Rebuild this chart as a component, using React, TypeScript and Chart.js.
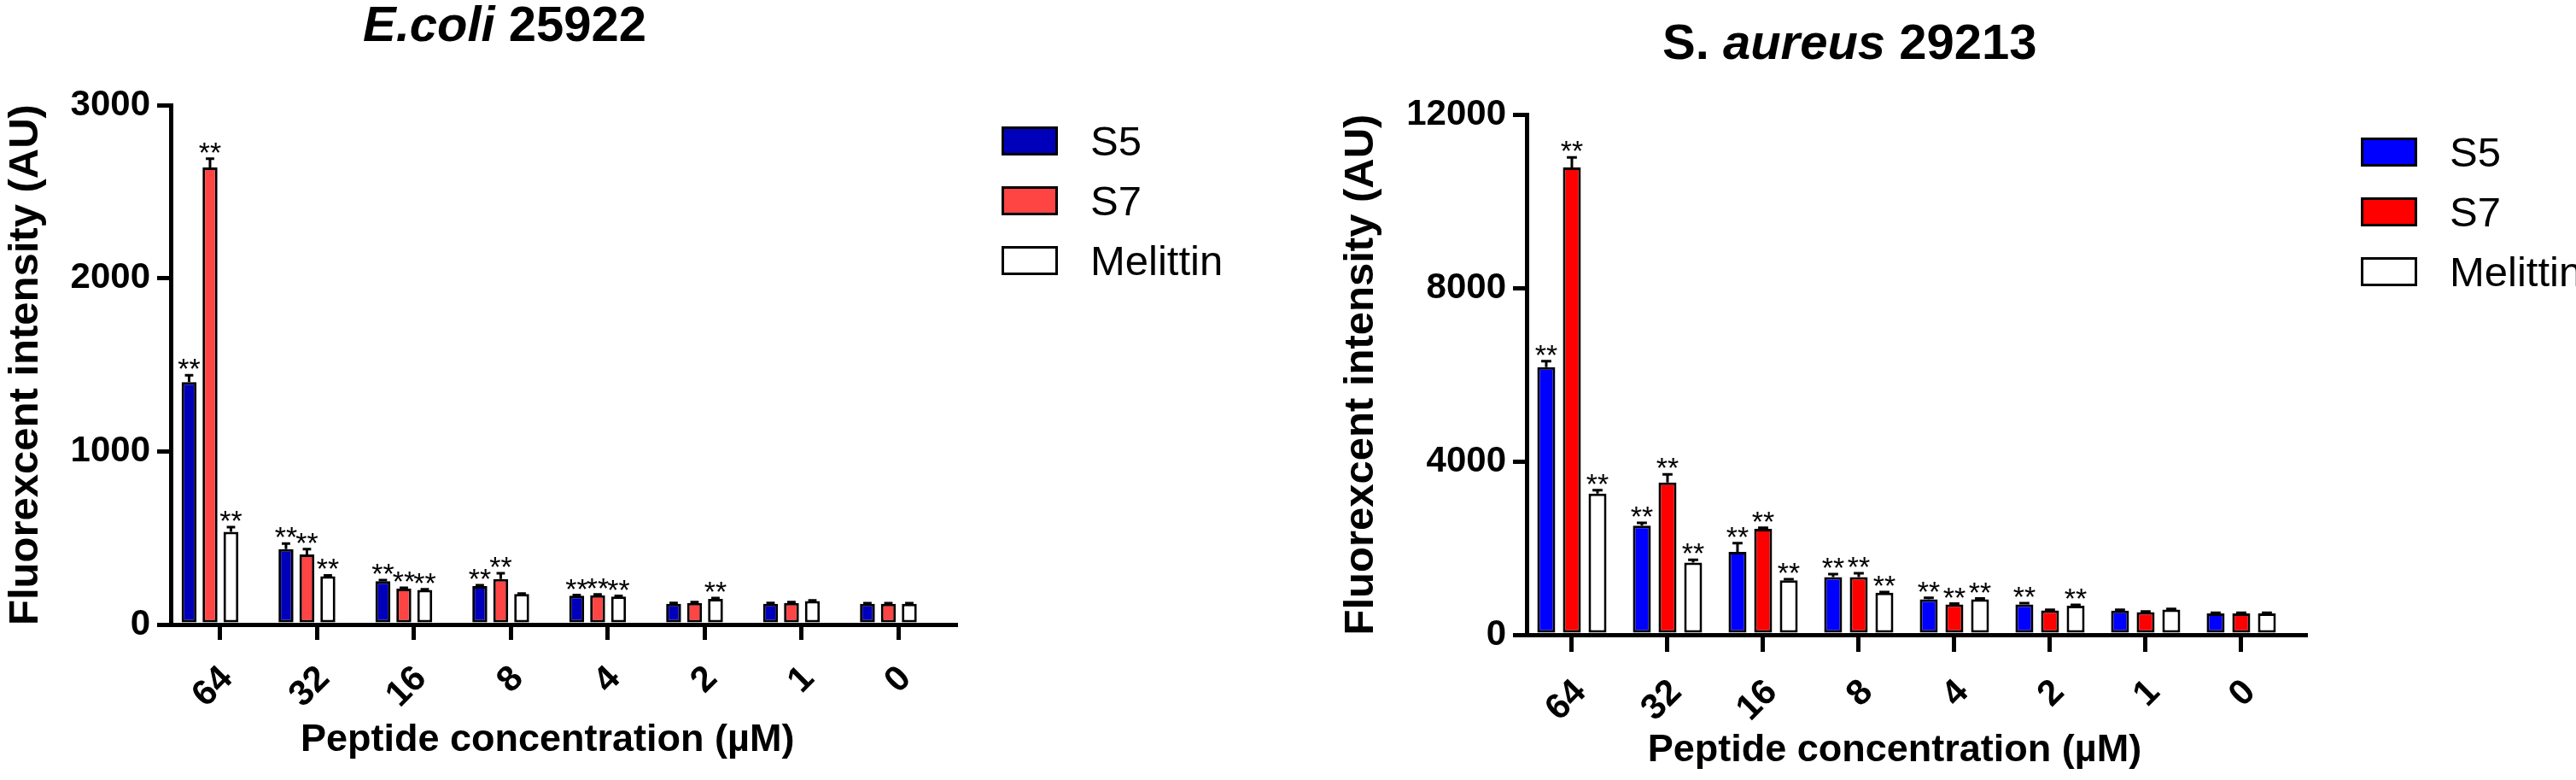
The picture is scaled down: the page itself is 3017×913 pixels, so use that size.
import React, { useEffect, useRef } from "react";
import { Chart, registerables } from "chart.js";

Chart.register(...registerables);

const FONT = '"Liberation Sans", Arial, Helvetica, sans-serif';
const PAGE_H = 913;

// ---------- data ----------
const categories = ["64", "32", "16", "8", "4", "2", "1", "0"];
const seriesLabels = ["S5", "S7", "Melittin"];
const yAxisTitle = "Fluorexcent intensity (AU)";
const xAxisTitle = "Peptide concentration (\u00b5M)";

// E. coli 25922
const ecoliS5 = [1400, 435, 251, 222, 166, 120, 120, 120];
const ecoliS7 = [2640, 404, 207, 263, 169, 125, 125, 120];
const ecoliMel = [535, 279, 200, 176, 161, 148, 136, 120];
const ecoliS5Err = [40, 33, 6, 5, 4, 4, 4, 3];
const ecoliS7Err = [50, 31, 5, 33, 5, 4, 4, 3];
const ecoliMelErr = [28, 5, 4, 3, 4, 5, 4, 3];
const ecoliS5Sig = [1, 1, 1, 1, 1, 0, 0, 0];
const ecoliS7Sig = [1, 1, 1, 1, 1, 0, 0, 0];
const ecoliMelSig = [1, 1, 1, 0, 1, 1, 0, 0];
const ecoliYTicks = [0, 1000, 2000, 3000];

// S. aureus 29213
const aureusS5 = [6170, 2516, 1911, 1328, 817, 700, 557, 491];
const aureusS7 = [10780, 3510, 2442, 1328, 700, 562, 524, 491];
const aureusMel = [3255, 1667, 1257, 968, 817, 668, 583, 491];
const aureusS5Err = [140, 65, 200, 70, 35, 30, 20, 15];
const aureusS7Err = [230, 190, 25, 90, 20, 15, 15, 15];
const aureusMelErr = [80, 60, 25, 15, 20, 20, 15, 15];
const aureusS5Sig = [1, 1, 1, 1, 1, 1, 0, 0];
const aureusS7Sig = [1, 1, 1, 1, 1, 0, 0, 0];
const aureusMelSig = [1, 1, 1, 1, 1, 1, 0, 0];
const aureusYTicks = [0, 4000, 8000, 12000];

// ---------- layout / style ----------
type Panel = {
  width: number;
  offsetLeft: number;
  titleParts: [string, boolean][];
  titleX: number;
  titleBaseline: number;
  colors: string[];
  values: number[][];
  errors: number[][];
  sig: number[][];
  yTicks: number[];
  area: { left: number; right: number; top: number; bottom: number };
  xMin: number;
  xMax: number;
  tickShift: number;
  labelOffset: number;
  labelPad: number;
  xTickLen: number;
  catPct: number;
  barPct: number;
  yTitlePad: number;
  legendLeft: number;
  legendTop: number;
};

const ecoliPanel: Panel = {
  width: 1500,
  offsetLeft: 0,
  titleParts: [["E.coli", true], [" 25922", false]],
  titleX: 425,
  titleBaseline: 48,
  colors: ["#0000BB", "#FF4444", "#FFFFFF"],
  values: [ecoliS5, ecoliS7, ecoliMel],
  errors: [ecoliS5Err, ecoliS7Err, ecoliMelErr],
  sig: [ecoliS5Sig, ecoliS7Sig, ecoliMelSig],
  yTicks: ecoliYTicks,
  area: { left: 200, right: 1119, top: 123, bottom: 731 },
  xMin: -0.405,
  xMax: 7.692,
  tickShift: 0.106,
  labelOffset: 8,
  labelPad: 21,
  xTickLen: 18,
  catPct: 0.648,
  barPct: 0.714,
  yTitlePad: 1,
  legendLeft: 1173,
  legendTop: 148,
};

const aureusPanel: Panel = {
  width: 1517,
  offsetLeft: 1500,
  titleParts: [["S.", false], [" aureus", true], [" 29213", false]],
  titleX: 447,
  titleBaseline: 69,
  colors: ["#0000FF", "#FF0000", "#FFFFFF"],
  values: [aureusS5, aureusS7, aureusMel],
  errors: [aureusS5Err, aureusS7Err, aureusMelErr],
  sig: [aureusS5Sig, aureusS7Sig, aureusMelSig],
  yTicks: aureusYTicks,
  area: { left: 288, right: 1200, top: 134, bottom: 743 },
  xMin: -0.473,
  xMax: 7.67,
  tickShift: 0,
  labelOffset: 10,
  labelPad: 23,
  xTickLen: 20,
  catPct: 0.804,
  barPct: 0.7,
  yTitlePad: 65,
  legendLeft: 1265,
  legendTop: 161,
};

function makeDecor(p: Panel) {
  return {
    id: "decor",
    afterDatasetsDraw(chart: any) {
      const ctx = chart.ctx;
      const yScale = chart.scales.y;
      chart.data.datasets.forEach((_ds: any, di: number) => {
        const meta = chart.getDatasetMeta(di);
        meta.data.forEach((bar: any, j: number) => {
          const v = p.values[di][j];
          const e = p.errors[di][j];
          const props = bar.getProps(["x", "y", "width"], true);
          const top = yScale.getPixelForValue(v + e);
          ctx.save();
          ctx.strokeStyle = "#000";
          ctx.lineWidth = 3;
          ctx.beginPath();
          ctx.moveTo(props.x, props.y);
          ctx.lineTo(props.x, top);
          ctx.moveTo(props.x - props.width * 0.28, top);
          ctx.lineTo(props.x + props.width * 0.28, top);
          ctx.stroke();
          if (p.sig[di][j]) {
            const size = 34;
            ctx.fillStyle = "#000";
            ctx.font = `${size}px ${FONT}`;
            ctx.textAlign = "center";
            ctx.textBaseline = "alphabetic";
            ctx.fillText("**", props.x, top - 15 + size * 0.56);
          }
          ctx.restore();
        });
      });
    },
    afterDraw(chart: any) {
      const ctx = chart.ctx;
      ctx.save();
      // title
      ctx.fillStyle = "#000";
      ctx.textBaseline = "alphabetic";
      ctx.textAlign = "left";
      let x = p.titleX;
      p.titleParts.forEach(([txt, italic]) => {
        ctx.font = `${italic ? "italic " : ""}bold 58px ${FONT}`;
        ctx.fillText(txt, x, p.titleBaseline);
        x += ctx.measureText(txt).width;
      });
      // x axis title
      const xs = chart.scales.x;
      const cx = (xs.getPixelForTick(0) + xs.getPixelForTick(categories.length - 1)) / 2 - 14;
      ctx.font = `bold 45px ${FONT}`;
      ctx.textAlign = "center";
      ctx.fillText(xAxisTitle, cx, chart.chartArea.bottom + 148);
      // legend
      chart.data.datasets.forEach((ds: any, i: number) => {
        const top = p.legendTop + i * 70;
        const left = p.legendLeft;
        ctx.fillStyle = ds.backgroundColor;
        ctx.fillRect(left, top, 66, 34);
        ctx.strokeStyle = "#000";
        ctx.lineWidth = 3;
        ctx.strokeRect(left + 1.5, top + 1.5, 63, 31);
        ctx.fillStyle = "#000";
        ctx.font = `49px ${FONT}`;
        ctx.textAlign = "left";
        ctx.textBaseline = "alphabetic";
        ctx.fillText(ds.label, left + 66 + 38, top + 34);
      });
      ctx.restore();
    },
  };
}

function PanelChart({ p }: { p: Panel }) {
  const ref = useRef<HTMLCanvasElement>(null);
  useEffect(() => {
    const canvas = ref.current;
    if (!canvas) return;
    const datasets = seriesLabels.map((label, i) => ({
      label,
      data: p.values[i].map((v, j) => ({ x: j, y: v })),
      backgroundColor: p.colors[i],
      borderColor: "#000",
      borderWidth: 3,
      borderSkipped: false,
      categoryPercentage: p.catPct,
      barPercentage: p.barPct,
    }));
    const yMax = p.yTicks[p.yTicks.length - 1];
    const tickFont = { family: FONT, size: 42, weight: "bold" as const };
    const chart = new Chart(canvas, {
      type: "bar",
      data: { datasets } as any,
      options: {
        responsive: false,
        animation: false,
        events: [],
        layout: {
          padding: { left: 0, top: p.area.top, right: p.width - p.area.right, bottom: 0 },
        },
        plugins: {
          legend: { display: false },
          tooltip: { enabled: false },
          title: { display: false },
        },
        scales: {
          x: {
            type: "linear",
            min: p.xMin,
            max: p.xMax,
            bounds: "data",
            offset: false,
            z: 1,
            afterBuildTicks: (s: any) => {
              s.ticks = categories.map((_c, i) => ({ value: i + p.tickShift }));
            },
            afterFit: (s: any) => {
              s.height = PAGE_H - p.area.bottom;
            },
            ticks: {
              autoSkip: false,
              minRotation: 45,
              maxRotation: 45,
              padding: p.labelPad,
              labelOffset: p.labelOffset,
              color: "#000",
              font: tickFont,
              callback: (_v: any, i: number) => categories[i],
            },
            grid: {
              display: true,
              offset: false,
              drawOnChartArea: false,
              drawTicks: true,
              tickLength: p.xTickLen,
              lineWidth: 5,
              color: "#000",
            },
            border: { display: true, width: 5, color: "#000" },
          },
          y: {
            type: "linear",
            min: 0,
            max: yMax,
            z: 1,
            afterBuildTicks: (s: any) => {
              s.ticks = p.yTicks.map((v) => ({ value: v }));
            },
            afterFit: (s: any) => {
              s.width = p.area.left;
            },
            ticks: {
              padding: 8,
              color: "#000",
              font: tickFont,
              callback: (v: any) => String(v),
            },
            grid: {
              display: true,
              drawOnChartArea: false,
              drawTicks: true,
              tickLength: 16,
              lineWidth: 5,
              color: "#000",
            },
            border: { display: true, width: 5, color: "#000" },
            title: {
              display: true,
              text: yAxisTitle,
              color: "#000",
              font: { family: FONT, size: 49, weight: "bold" },
              padding: { top: p.yTitlePad, bottom: 0 },
            },
          },
        },
      } as any,
      plugins: [makeDecor(p)],
    });
    return () => chart.destroy();
  }, [p]);
  return (
    <canvas
      ref={ref}
      width={p.width}
      height={PAGE_H}
      style={{ position: "absolute", left: p.offsetLeft, top: 0, width: p.width, height: PAGE_H }}
    />
  );
}

export default function App() {
  return (
    <div
      style={{
        position: "fixed",
        left: 0,
        top: 0,
        width: 3017,
        height: PAGE_H,
        background: "#fff",
        overflow: "hidden",
      }}
    >
      <PanelChart p={ecoliPanel} />
      <PanelChart p={aureusPanel} />
    </div>
  );
}
